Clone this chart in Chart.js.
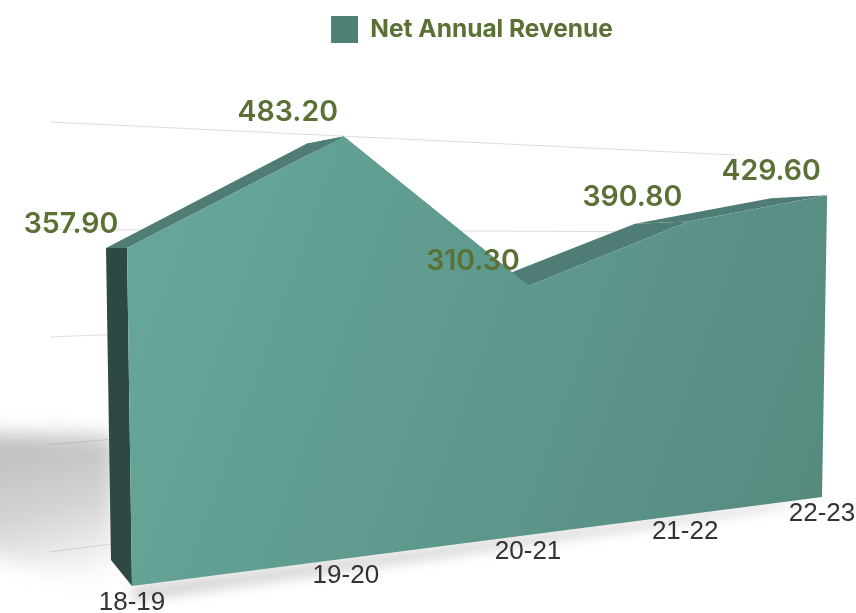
<!DOCTYPE html>
<html>
<head>
<meta charset="utf-8">
<title>Net Annual Revenue</title>
<script src="https://cdn.jsdelivr.net/npm/chart.js@4"></script>
<style>
  html, body { margin: 0; padding: 0; background: #fff; }
  canvas { display: block; }
</style>
</head>
<body>
<canvas id="chart1" width="856" height="613"></canvas>
<script>
const years = ["18-19", "19-20", "20-21", "21-22", "22-23"];
const netRevenue = [357.9, 483.2, 310.3, 390.8, 429.6];
const seriesName = "Net Annual Revenue";

const legendColor = "#4f8075";
const labelColor = "#5a7034";
const tickColor = "#333333";

// corners of the faces on screen: bottom left, bottom right, top right, top left
const frontQuad = [[132, 586], [822, 497], [828, 145], [125, 111]];
const backQuad = [[111, 560], [765, 488], [772, 150], [104, 121]];
// the grid sits on a wall behind the chart, its top edge is the 400 line
const wallQuad = [[50, 552], [735, 463], [735, 155], [50, 122]];

function makeProjection(q) {
    const [p0, p1, p2, p3] = q;
    const dx1 = p1[0] - p2[0], dx2 = p3[0] - p2[0], sx = p0[0] - p1[0] + p2[0] - p3[0];
    const dy1 = p1[1] - p2[1], dy2 = p3[1] - p2[1], sy = p0[1] - p1[1] + p2[1] - p3[1];
    const den = dx1 * dy2 - dx2 * dy1;
    const g = (sx * dy2 - dx2 * sy) / den;
    const h = (dx1 * sy - sx * dy1) / den;
    const a = p1[0] - p0[0] + g * p1[0], b = p3[0] - p0[0] + h * p3[0];
    const d = p1[1] - p0[1] + g * p1[1], e = p3[1] - p0[1] + h * p3[1];
    return (s, t) => {
        const w = g * s + h * t + 1;
        return [(a * s + b * t + p0[0]) / w, (d * s + e * t + p0[1]) / w];
    };
}

const toFront = makeProjection(frontQuad);
const toBack = makeProjection(backQuad);
const toWall = makeProjection(wallQuad);

function polygon(ctx, pts) {
    ctx.beginPath();
    pts.forEach((p, i) => i ? ctx.lineTo(p[0], p[1]) : ctx.moveTo(p[0], p[1]));
    ctx.closePath();
}

const area3d = {
    id: "area3d",
    beforeDatasetsDraw(chart) {
        const ctx = chart.ctx;
        const xs = chart.scales.x, ys = chart.scales.y;
        const sOf = i => (xs.getPixelForValue(i) - xs.left) / xs.width;
        const tOf = v => (ys.bottom - ys.getPixelForValue(v)) / ys.height;

        const frontTop = netRevenue.map((v, i) => toFront(sOf(i), tOf(v)));
        const backTop = netRevenue.map((v, i) => toBack(sOf(i), tOf(v)));
        const frontBase = years.map((y, i) => toFront(sOf(i), tOf(0)));
        const last = years.length - 1;

        ctx.save();

        // grid lines, from the y scale ticks
        ctx.strokeStyle = "#dedede";
        ctx.lineWidth = 1;
        const wallTop = tOf(400);
        ys.ticks.filter(tk => tk.value <= 400).forEach(tk => {
            const t = tOf(tk.value) / wallTop;
            const a = toWall(0, t), b = toWall(1, t);
            ctx.beginPath();
            ctx.moveTo(a[0], a[1]);
            ctx.lineTo(b[0], b[1]);
            ctx.stroke();
        });

        // soft shadows on the floor
        ctx.save();
        ctx.filter = "blur(10px)";
        const sg = ctx.createLinearGradient(30, 430, 70, 590);
        sg.addColorStop(0, "rgba(120,120,120,0.5)");
        sg.addColorStop(0.5, "rgba(120,120,120,0.32)");
        sg.addColorStop(1, "rgba(120,120,120,0)");
        ctx.fillStyle = sg;
        polygon(ctx, [[-30, 434], [115, 436], [115, 590], [-30, 550]]);
        ctx.fill();
        ctx.filter = "blur(6px)";
        ctx.fillStyle = "rgba(120,120,120,0.3)";
        polygon(ctx, [frontBase[0], frontBase[last], [frontBase[last][0] - 60, frontBase[last][1] + 14], [frontBase[0][0], frontBase[0][1] + 16]]);
        ctx.fill();
        ctx.restore();

        // left side
        ctx.fillStyle = "#2e4843";
        polygon(ctx, [toBack(sOf(0), tOf(0)), backTop[0], frontTop[0], frontBase[0]]);
        ctx.fill();

        // top ribbon, one quad per segment
        ctx.fillStyle = "#4f7d75";
        for (let i = 0; i < last; i++) {
            polygon(ctx, [backTop[i], backTop[i + 1], frontTop[i + 1], frontTop[i]]);
            ctx.fill();
        }

        // front face
        const g = ctx.createLinearGradient(130, 250, 830, 500);
        g.addColorStop(0, "#66a79a");
        g.addColorStop(1, "#568a7f");
        ctx.fillStyle = g;
        polygon(ctx, frontTop.concat(frontBase.slice().reverse()));
        ctx.fill();

        // value labels
        ctx.fillStyle = labelColor;
        ctx.font = "600 28.5px Inter";
        ctx.textAlign = "center";
        ctx.textBaseline = "middle";
        netRevenue.forEach((v, i) => {
            ctx.fillText(v.toFixed(2), frontTop[i][0] - 56, frontTop[i][1] - 24);
        });

        // category labels, along the foot of the front face
        ctx.fillStyle = tickColor;
        ctx.font = "26px 'Liberation Sans'";
        years.forEach((y, i) => {
            ctx.fillText(xs.getLabelForValue(i), frontBase[i][0], frontBase[i][1] + 17);
        });

        ctx.restore();
    }
};

new Chart("chart1", {
    type: "line",
    data: {
        labels: years,
        datasets: [{
            label: seriesName,
            data: netRevenue,
            backgroundColor: legendColor,
            borderColor: legendColor,
            borderWidth: 0,
            pointRadius: 0,
            showLine: false,
            fill: false
        }]
    },
    options: {
        responsive: false,
        animation: false,
        layout: { padding: { left: 88 } },
        scales: {
            x: { display: false },
            y: { display: false, min: 0, max: 500, ticks: { stepSize: 100 } }
        },
        plugins: {
            tooltip: { enabled: false },
            legend: {
                display: true,
                position: "top",
                labels: {
                    boxWidth: 27,
                    boxHeight: 27,
                    padding: 16,
                    color: labelColor,
                    font: { family: "Inter", size: 24.5, weight: "700" }
                }
            }
        }
    },
    plugins: [area3d]
});
</script>
</body>
</html>
